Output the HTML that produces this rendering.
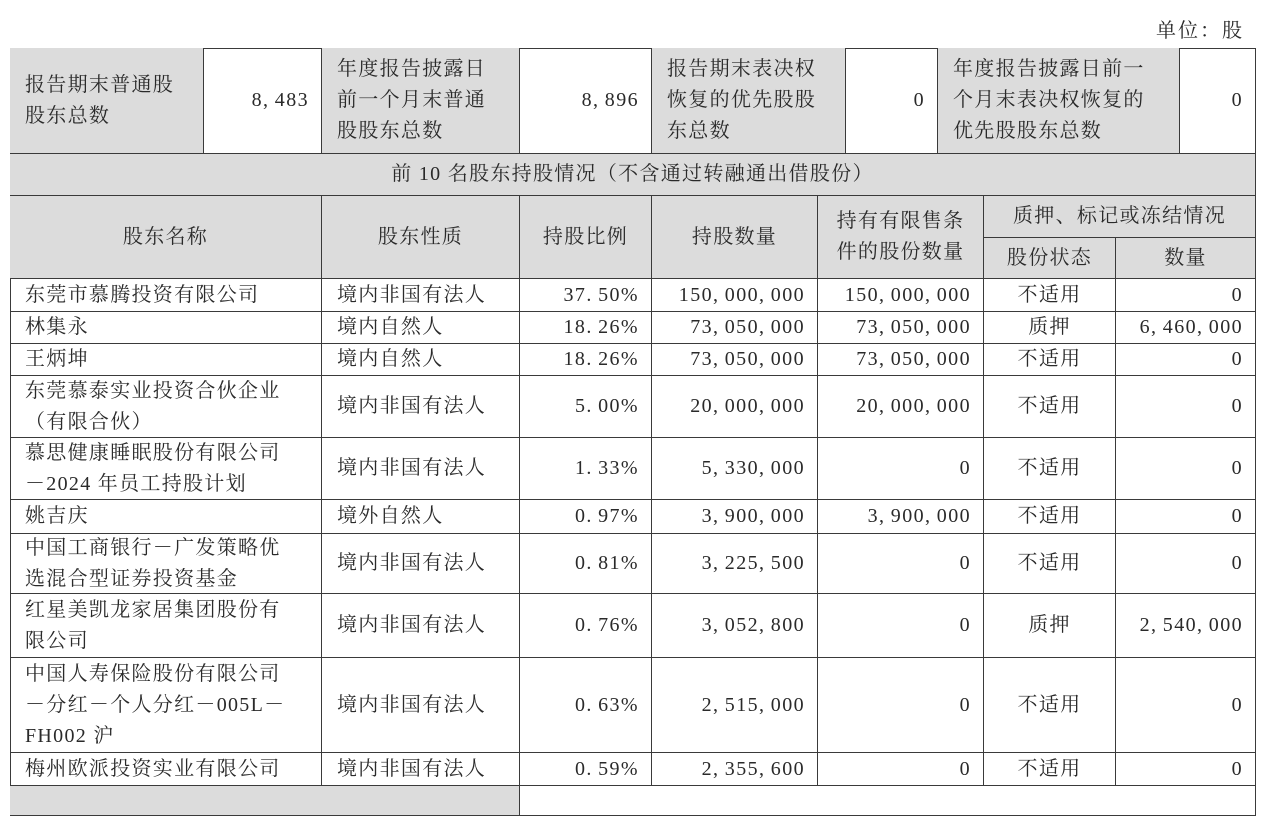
<!DOCTYPE html>
<html><head><meta charset="utf-8"><style>
body{margin:0;width:1280px;height:796px;background:#fff;overflow:hidden;position:relative;font-family:"Liberation Serif","Noto Serif CJK SC",serif;color:#2a2a2a;font-size:20px}
.c{position:absolute;box-sizing:border-box;border-right:1.5px solid #3a3a3a;border-bottom:1.5px solid #3a3a3a;display:flex;align-items:center;line-height:31px;letter-spacing:1.3px;white-space:nowrap}
.g{background:#dcdcdc}
.l{justify-content:flex-start;padding-left:15px}
.r{justify-content:flex-end;padding-right:12px;letter-spacing:1.4px;word-spacing:-1px}
.m{justify-content:center;text-align:center}
#frame{position:absolute;left:10px;top:48px;width:1246px;height:760px;border-left:1.5px solid #3a3a3a;border-top:1.5px solid #3a3a3a;box-sizing:border-box}
</style></head><body>
<div style="position:absolute;right:36px;top:14px;font-size:20px;letter-spacing:2px">单位：股</div>
<div id="frame"></div>
<div class="c g l" style="left:10px;top:48px;width:194px;height:106px">报告期末普通股<br>股东总数</div>
<div class="c r" style="left:204px;top:48px;width:118px;height:106px">8, 483</div>
<div class="c g l" style="left:322px;top:48px;width:198px;height:106px">年度报告披露日<br>前一个月末普通<br>股股东总数</div>
<div class="c r" style="left:520px;top:48px;width:132px;height:106px">8, 896</div>
<div class="c g l" style="left:652px;top:48px;width:194px;height:106px">报告期末表决权<br>恢复的优先股股<br>东总数</div>
<div class="c r" style="left:846px;top:48px;width:92px;height:106px">0</div>
<div class="c g l" style="left:938px;top:48px;width:242px;height:106px">年度报告披露日前一<br>个月末表决权恢复的<br>优先股股东总数</div>
<div class="c r" style="left:1180px;top:48px;width:76px;height:106px">0</div>
<div class="c g m" style="left:10px;top:154px;width:1246px;height:42px">前 10 名股东持股情况（不含通过转融通出借股份）</div>
<div class="c g m" style="left:10px;top:196px;width:312px;height:83px">股东名称</div>
<div class="c g m" style="left:322px;top:196px;width:198px;height:83px">股东性质</div>
<div class="c g m" style="left:520px;top:196px;width:132px;height:83px">持股比例</div>
<div class="c g m" style="left:652px;top:196px;width:166px;height:83px">持股数量</div>
<div class="c g m" style="left:818px;top:196px;width:166px;height:83px">持有有限售条<br>件的股份数量</div>
<div class="c g m" style="left:984px;top:196px;width:272px;height:42px">质押、标记或冻结情况</div>
<div class="c g m" style="left:984px;top:238px;width:132px;height:41px">股份状态</div>
<div class="c g m" style="left:1116px;top:238px;width:140px;height:41px">数量</div>

<div class="c l" style="left:10px;top:279px;width:312px;height:33px">东莞市慕腾投资有限公司</div>
<div class="c l" style="left:322px;top:279px;width:198px;height:33px">境内非国有法人</div>
<div class="c r" style="left:520px;top:279px;width:132px;height:33px">37. 50%</div>
<div class="c r" style="left:652px;top:279px;width:166px;height:33px">150, 000, 000</div>
<div class="c r" style="left:818px;top:279px;width:166px;height:33px">150, 000, 000</div>
<div class="c m" style="left:984px;top:279px;width:132px;height:33px">不适用</div>
<div class="c r" style="left:1116px;top:279px;width:140px;height:33px">0</div>

<div class="c l" style="left:10px;top:312px;width:312px;height:32px">林集永</div>
<div class="c l" style="left:322px;top:312px;width:198px;height:32px">境内自然人</div>
<div class="c r" style="left:520px;top:312px;width:132px;height:32px">18. 26%</div>
<div class="c r" style="left:652px;top:312px;width:166px;height:32px">73, 050, 000</div>
<div class="c r" style="left:818px;top:312px;width:166px;height:32px">73, 050, 000</div>
<div class="c m" style="left:984px;top:312px;width:132px;height:32px">质押</div>
<div class="c r" style="left:1116px;top:312px;width:140px;height:32px">6, 460, 000</div>

<div class="c l" style="left:10px;top:344px;width:312px;height:32px">王炳坤</div>
<div class="c l" style="left:322px;top:344px;width:198px;height:32px">境内自然人</div>
<div class="c r" style="left:520px;top:344px;width:132px;height:32px">18. 26%</div>
<div class="c r" style="left:652px;top:344px;width:166px;height:32px">73, 050, 000</div>
<div class="c r" style="left:818px;top:344px;width:166px;height:32px">73, 050, 000</div>
<div class="c m" style="left:984px;top:344px;width:132px;height:32px">不适用</div>
<div class="c r" style="left:1116px;top:344px;width:140px;height:32px">0</div>

<div class="c l" style="left:10px;top:376px;width:312px;height:62px">东莞慕泰实业投资合伙企业<br>（有限合伙）</div>
<div class="c l" style="left:322px;top:376px;width:198px;height:62px">境内非国有法人</div>
<div class="c r" style="left:520px;top:376px;width:132px;height:62px">5. 00%</div>
<div class="c r" style="left:652px;top:376px;width:166px;height:62px">20, 000, 000</div>
<div class="c r" style="left:818px;top:376px;width:166px;height:62px">20, 000, 000</div>
<div class="c m" style="left:984px;top:376px;width:132px;height:62px">不适用</div>
<div class="c r" style="left:1116px;top:376px;width:140px;height:62px">0</div>

<div class="c l" style="left:10px;top:438px;width:312px;height:62px">慕思健康睡眠股份有限公司<br>－2024 年员工持股计划</div>
<div class="c l" style="left:322px;top:438px;width:198px;height:62px">境内非国有法人</div>
<div class="c r" style="left:520px;top:438px;width:132px;height:62px">1. 33%</div>
<div class="c r" style="left:652px;top:438px;width:166px;height:62px">5, 330, 000</div>
<div class="c r" style="left:818px;top:438px;width:166px;height:62px">0</div>
<div class="c m" style="left:984px;top:438px;width:132px;height:62px">不适用</div>
<div class="c r" style="left:1116px;top:438px;width:140px;height:62px">0</div>

<div class="c l" style="left:10px;top:500px;width:312px;height:34px">姚吉庆</div>
<div class="c l" style="left:322px;top:500px;width:198px;height:34px">境外自然人</div>
<div class="c r" style="left:520px;top:500px;width:132px;height:34px">0. 97%</div>
<div class="c r" style="left:652px;top:500px;width:166px;height:34px">3, 900, 000</div>
<div class="c r" style="left:818px;top:500px;width:166px;height:34px">3, 900, 000</div>
<div class="c m" style="left:984px;top:500px;width:132px;height:34px">不适用</div>
<div class="c r" style="left:1116px;top:500px;width:140px;height:34px">0</div>

<div class="c l" style="left:10px;top:534px;width:312px;height:60px">中国工商银行－广发策略优<br>选混合型证券投资基金</div>
<div class="c l" style="left:322px;top:534px;width:198px;height:60px">境内非国有法人</div>
<div class="c r" style="left:520px;top:534px;width:132px;height:60px">0. 81%</div>
<div class="c r" style="left:652px;top:534px;width:166px;height:60px">3, 225, 500</div>
<div class="c r" style="left:818px;top:534px;width:166px;height:60px">0</div>
<div class="c m" style="left:984px;top:534px;width:132px;height:60px">不适用</div>
<div class="c r" style="left:1116px;top:534px;width:140px;height:60px">0</div>

<div class="c l" style="left:10px;top:594px;width:312px;height:64px">红星美凯龙家居集团股份有<br>限公司</div>
<div class="c l" style="left:322px;top:594px;width:198px;height:64px">境内非国有法人</div>
<div class="c r" style="left:520px;top:594px;width:132px;height:64px">0. 76%</div>
<div class="c r" style="left:652px;top:594px;width:166px;height:64px">3, 052, 800</div>
<div class="c r" style="left:818px;top:594px;width:166px;height:64px">0</div>
<div class="c m" style="left:984px;top:594px;width:132px;height:64px">质押</div>
<div class="c r" style="left:1116px;top:594px;width:140px;height:64px">2, 540, 000</div>

<div class="c l" style="left:10px;top:658px;width:312px;height:95px">中国人寿保险股份有限公司<br>－分红－个人分红－005L－<br>FH002 沪</div>
<div class="c l" style="left:322px;top:658px;width:198px;height:95px">境内非国有法人</div>
<div class="c r" style="left:520px;top:658px;width:132px;height:95px">0. 63%</div>
<div class="c r" style="left:652px;top:658px;width:166px;height:95px">2, 515, 000</div>
<div class="c r" style="left:818px;top:658px;width:166px;height:95px">0</div>
<div class="c m" style="left:984px;top:658px;width:132px;height:95px">不适用</div>
<div class="c r" style="left:1116px;top:658px;width:140px;height:95px">0</div>

<div class="c l" style="left:10px;top:753px;width:312px;height:33px">梅州欧派投资实业有限公司</div>
<div class="c l" style="left:322px;top:753px;width:198px;height:33px">境内非国有法人</div>
<div class="c r" style="left:520px;top:753px;width:132px;height:33px">0. 59%</div>
<div class="c r" style="left:652px;top:753px;width:166px;height:33px">2, 355, 600</div>
<div class="c r" style="left:818px;top:753px;width:166px;height:33px">0</div>
<div class="c m" style="left:984px;top:753px;width:132px;height:33px">不适用</div>
<div class="c r" style="left:1116px;top:753px;width:140px;height:33px">0</div>

<div class="c g" style="left:10px;top:786px;width:510px;height:30px"></div>
<div class="c" style="left:520px;top:786px;width:736px;height:30px"></div>
</body></html>
